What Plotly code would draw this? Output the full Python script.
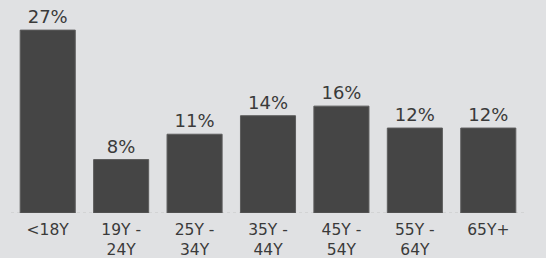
import plotly.graph_objects as go

categories = ["<18Y", "19Y -<br>24Y", "25Y -<br>34Y", "35Y -<br>44Y", "45Y -<br>54Y", "55Y -<br>64Y", "65Y+"]
values = [26.7, 7.8, 11.5, 14.2, 15.6, 12.4, 12.4]
labels = ["27%", "8%", "11%", "14%", "16%", "12%", "12%"]

fig = go.Figure(go.Bar(
    x=categories, y=values, text=labels, textposition="outside",
    cliponaxis=False,
    marker=dict(color="#454545", line=dict(color="#5c5c5c", width=1)),
    textfont=dict(family="DejaVu Sans", size=18, color="#3a3a3a"),
))
fig.update_layout(
    width=546, height=258,
    margin=dict(l=11, r=21, t=1, b=45),
    paper_bgcolor="#e0e1e3", plot_bgcolor="#e0e1e3",
    bargap=0.25, showlegend=False,
    xaxis=dict(showgrid=False, zeroline=False, showline=False, ticks="",
               automargin=False, ticklabelstandoff=5,
               tickfont=dict(family="DejaVu Sans", size=15.5, color="#3a3a3a")),
    yaxis=dict(range=[0, 30.95], visible=False, automargin=False),
    shapes=[dict(type="line", xref="paper", yref="y", x0=0, x1=1, y0=0, y1=0,
                 line=dict(color="#c4c4c4", width=1, dash="dot"), layer="below")],
)
fig.write_html("out.html", config={"displayModeBar": False},
               post_script="document.body.style.margin='0';document.body.style.background='#e0e1e3';")
